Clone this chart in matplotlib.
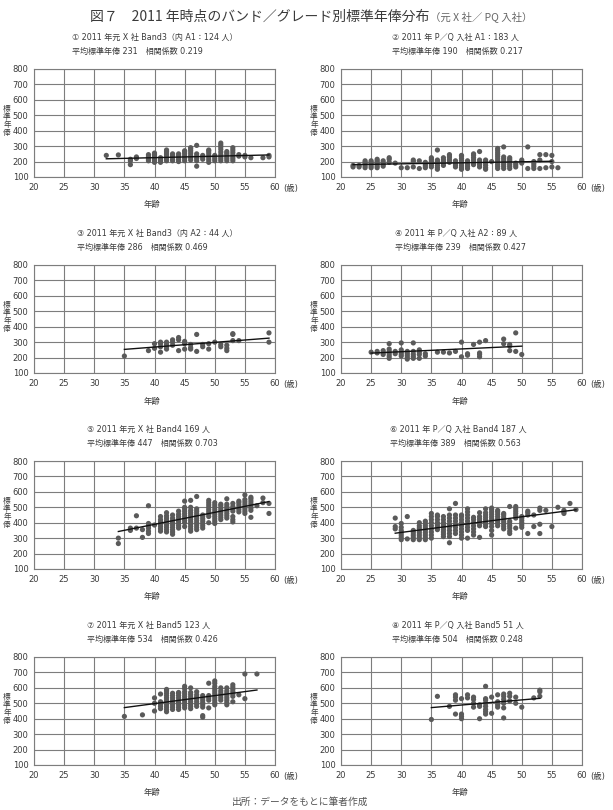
import matplotlib
matplotlib.use("Agg")
import matplotlib.pyplot as plt

plt.rcParams['font.family'] = ['Noto Sans CJK JP', 'DejaVu Sans']

# ---- data ----
titulo = "図７　2011 年時点のバンド／グレード別標準年俸分布"
titulo_sub = "（元 X 社／ PQ 入社）"
pie = "出所：データをもとに筆者作成"

subtitulos = [
    "① 2011 年元 X 社 Band3（内 A1：124 人）",
    "② 2011 年 P／Q 入社 A1：183 人",
    "③ 2011 年元 X 社 Band3（内 A2：44 人）",
    "④ 2011 年 P／Q 入社 A2：89 人",
    "⑤ 2011 年元 X 社 Band4 169 人",
    "⑥ 2011 年 P／Q 入社 Band4 187 人",
    "⑦ 2011 年元 X 社 Band5 123 人",
    "⑧ 2011 年 P／Q 入社 Band5 51 人",
]
promedio = [231, 190, 286, 239, 447, 389, 534, 504]
correlacion = [0.219, 0.217, 0.469, 0.427, 0.703, 0.563, 0.426, 0.248]

# edad -> lista de salarios por panel
p1_edad = [32, 34, 36, 37, 39, 40, 41, 42, 43, 44, 45, 46, 47, 48, 49, 50, 51, 52, 53, 54, 55, 56, 58, 59]
p1_sal = [[240], [243], [180, 205, 215], [220, 230], [205, 215, 225, 235, 245],
          [195, 205, 215, 225, 235, 245, 255], [195, 205, 215, 225],
          [205, 215, 225, 235, 245, 255, 265, 275], [205, 215, 230, 240, 250],
          [200, 212, 225, 238, 250], [205, 220, 235, 250, 262, 270],
          [210, 225, 240, 255, 270, 282, 290], [170, 205, 220, 235, 250, 305],
          [215, 228, 240], [195, 210, 225, 240, 255, 268, 275],
          [205, 218, 230, 240], [205, 218, 230, 245, 262, 280, 295, 308, 320],
          [205, 218, 230, 245, 255, 265], [205, 218, 230, 245, 260, 275, 290],
          [235, 245], [230, 240], [225], [225], [230, 240]]

p2_edad = [22, 23, 24, 25, 26, 27, 28, 29, 30, 31, 32, 33, 34, 35, 36, 37, 38, 39, 40,
           41, 42, 43, 44, 45, 46, 47, 48, 49, 50, 51, 52, 53, 54, 55, 56]
p2_sal = [[165, 175], [165, 175], [160, 172, 185, 195, 205], [160, 172, 185, 195, 205],
          [160, 172, 185, 195, 205, 215], [170, 180, 192, 205], [195, 215, 225], [190],
          [160], [160], [165, 200, 210], [155, 205], [160, 172, 185, 195],
          [165, 178, 190, 202, 215, 225], [150, 162, 175, 188, 200, 210, 275],
          [175, 188, 200, 212, 225], [195, 210, 225, 235, 245], [165, 178, 190, 205],
          [150, 162, 175, 190, 205, 220, 235, 240], [155, 168, 180, 195, 205],
          [180, 195, 210, 225, 240, 250], [165, 180, 195, 210, 265],
          [150, 160, 175, 190, 200, 210], [200],
          [155, 168, 180, 192, 205, 218, 232, 245, 258, 272, 285],
          [155, 168, 180, 192, 205, 218, 230, 295], [155, 168, 180, 192, 205, 215, 225],
          [165, 178, 190], [190, 200, 210], [155, 295], [155, 170, 185, 200],
          [155, 210, 245], [160, 245], [165, 200, 240], [160]]

p3_edad = [35, 39, 40, 41, 42, 43, 44, 45, 46, 47, 48, 49, 50, 51, 52, 53, 54, 59]
p3_sal = [[210], [245], [260, 290], [235, 270, 290, 300], [255, 270, 285, 300],
          [280, 300, 315], [245, 315, 330], [255, 290, 305], [255, 265, 285],
          [240, 350], [270, 285], [255, 290], [300], [270, 285], [245, 260, 280],
          [310, 350, 355], [310], [300, 360]]

p4_edad = [25, 26, 27, 28, 29, 30, 31, 32, 33, 34, 36, 37, 38, 39, 40, 41, 42, 43, 44, 47, 48, 49, 50]
p4_sal = [[235], [230, 240], [220, 232, 245], [195, 210, 225, 240, 255, 290], [225, 240],
          [210, 222, 235, 250, 295], [190, 202, 215, 228, 240], [195, 208, 222, 240, 295],
          [195, 220, 235, 250], [210, 225], [235], [235], [230], [240], [205, 300],
          [215, 225], [285], [205, 220, 230, 300], [310], [290, 320], [245, 275, 285],
          [240, 360], [220]]

p5_edad = [34, 36, 37, 38, 39, 40, 41, 42, 43, 44, 45, 46, 47, 48, 49, 50, 51, 52, 53, 54,
           55, 56, 57, 58, 59]
p5_sal = [[265, 300], [350, 365], [365, 445], [305, 355], [330, 345, 365, 380, 395, 510],
          [385], [345, 360, 375, 390, 405, 420, 440],
          [340, 355, 370, 385, 400, 415, 430, 445, 465],
          [325, 340, 355, 370, 385, 400, 415, 430, 450],
          [365, 380, 395, 410, 425, 440, 455, 475],
          [375, 400, 415, 430, 445, 460, 475, 490, 500, 540],
          [345, 360, 375, 390, 405, 420, 435, 450, 465, 480, 500, 545],
          [355, 370, 385, 400, 415, 430, 445, 460, 475, 490, 570],
          [365, 380, 395, 410, 425, 440, 450],
          [400, 440, 455, 470, 485, 500, 515, 530, 545],
          [395, 410, 425, 440, 455, 470, 485, 500, 515, 530],
          [420, 435, 450, 465, 480, 495, 510, 520],
          [430, 445, 460, 475, 490, 505, 520, 555],
          [405, 420, 440, 475, 490, 505, 525],
          [470, 485, 500, 515, 530, 540],
          [460, 475, 490, 505, 520, 535, 550, 580],
          [435, 480, 495, 510, 525, 540, 555, 565], [510], [530, 560], [460, 525]]

p6_edad = [29, 30, 31, 32, 33, 34, 35, 36, 37, 38, 39, 40, 41, 42, 43, 44, 45, 46, 47, 48,
           49, 50, 51, 52, 53, 54, 55, 56, 57, 58, 59]
p6_sal = [[360, 375, 430], [290, 305, 320, 335, 350, 370, 395], [295, 440],
          [290, 305, 320, 335, 350], [290, 305, 320, 335, 350, 365, 380, 400],
          [290, 305, 320, 335, 350, 365, 380, 395, 410],
          [300, 320, 340, 360, 380, 400, 420, 440, 460],
          [355, 370, 385, 400, 420, 440, 450],
          [310, 325, 340, 355, 370, 385, 400, 420, 440],
          [270, 310, 330, 350, 370, 390, 410, 430, 450, 490],
          [330, 350, 370, 390, 410, 430, 450, 525],
          [300, 320, 340, 360, 380, 400, 420, 440, 450],
          [300, 350, 370, 390, 410, 430, 450, 470, 490],
          [320, 340, 360, 380, 400, 420, 435],
          [305, 380, 395, 410, 425, 440, 465],
          [375, 390, 405, 420, 435, 450, 465, 490],
          [320, 350, 375, 395, 410, 425, 440, 455, 470, 485, 495],
          [380, 395, 410, 425, 440, 455, 470, 480],
          [360, 375, 390, 405, 420, 435, 450, 460],
          [330, 345, 365, 380, 395, 410, 505],
          [365, 430, 445, 460, 475, 490, 505],
          [370, 385, 400, 415, 430, 440], [330, 450, 465, 475], [375, 450],
          [330, 390, 480, 495], [480], [375], [500], [460, 470, 480], [525], [485]]

p7_edad = [35, 38, 40, 41, 42, 43, 44, 45, 46, 47, 48, 49, 50, 51, 52, 53, 54, 55, 57]
p7_sal = [[415], [425], [450, 500, 535], [465, 480, 495, 510, 560],
          [445, 460, 475, 490, 505, 520, 535, 550, 565, 580, 590],
          [460, 475, 490, 505, 520, 535, 550, 565],
          [460, 475, 490, 505, 520, 535, 550, 565, 570],
          [470, 485, 500, 515, 530, 545, 560, 575, 595, 610],
          [465, 480, 495, 510, 525, 540, 555, 570, 600],
          [480, 495, 510, 525, 540, 555, 575],
          [410, 420, 475, 490, 505, 520, 535, 550],
          [470, 520, 535, 550, 630],
          [490, 505, 520, 535, 550, 565, 580, 595, 610, 630, 645],
          [520, 535, 550, 565, 580, 600],
          [490, 505, 520, 535, 550, 565, 580, 600],
          [510, 545, 560, 575, 590, 605, 620], [555], [530, 690], [690]]

p8_edad = [35, 36, 38, 39, 40, 41, 42, 43, 44, 45, 46, 47, 48, 49, 50, 52, 53]
p8_sal = [[395], [545], [480], [430, 520, 540, 555], [400, 415, 430, 530], [535, 555],
          [475, 500, 525, 540], [400, 480, 490],
          [430, 445, 460, 480, 500, 520, 530, 610], [435, 540], [475, 490, 510, 555],
          [405, 470, 500, 525, 545, 560], [515, 545, 565], [500, 540], [475], [535],
          [545, 575, 585]]

# recta de tendencia: edad inicio, edad fin, salario inicio, salario fin
tendencia = [
    (32, 59, 218, 243),
    (22, 55, 180, 202),
    (35, 59, 253, 326),
    (25, 50, 229, 274),
    (34, 59, 343, 537),
    (29, 59, 332, 484),
    (35, 57, 472, 586),
    (35, 53, 472, 532),
]

edades = [p1_edad, p2_edad, p3_edad, p4_edad, p5_edad, p6_edad, p7_edad, p8_edad]
salarios = [p1_sal, p2_sal, p3_sal, p4_sal, p5_sal, p6_sal, p7_sal, p8_sal]

# ---- figura ----
W, H = 613, 810
fig = plt.figure(figsize=(W / 100, H / 100), dpi=100)
fig.patch.set_facecolor('white')

def px(x, y):
    return x / W, 1 - y / H

gris_txt = '#3a3a3a'
gris_punto = '#5a5a5a'
gris_rejilla = '#7d7d7d'
fam_txt = ['DejaVu Sans', 'Noto Sans CJK JP']

# titulo principal
t = fig.text(*px(90, 17), titulo, ha='left', va='center', fontsize=10, color=gris_txt)
rend = fig.canvas.get_renderer()
bb = t.get_window_extent(rend)
fig.text(bb.x1 / W + 1 / W, 1 - 17 / H, titulo_sub, ha='left', va='center',
         fontsize=7.5, color='#666666')

col_x = [34, 341]
fila_top = [69, 265, 461, 657]
txt_x = [[72, 392], [77, 395], [87, 390], [87, 392]]
ax_w, ax_h = 241, 108

for i in range(8):
    fila, col = divmod(i, 2)
    left = col_x[col]
    top = fila_top[fila]
    ax = fig.add_axes([left / W, 1 - (top + ax_h) / H, ax_w / W, ax_h / H])

    xs, ys = [], []
    for e, vals in zip(edades[i], salarios[i]):
        for v in vals:
            xs.append(e)
            ys.append(v)
    ax.scatter(xs, ys, s=14, color=gris_punto, edgecolors='none', zorder=3)

    x0, x1, y0, y1 = tendencia[i]
    ax.plot([x0, x1], [y0, y1], color='#111111', lw=1.0, zorder=4)

    ax.set_xlim(20, 60)
    ax.set_ylim(100, 800)
    ax.set_xticks(range(20, 61, 5))
    ax.set_yticks(range(100, 801, 100))
    ax.grid(True, color=gris_rejilla, lw=0.8)
    ax.set_axisbelow(True)
    for s in ax.spines.values():
        s.set_color(gris_rejilla)
        s.set_linewidth(0.8)
    ax.tick_params(length=0, labelsize=6, labelcolor=gris_txt, pad=4,
                   labelfontfamily='DejaVu Sans')

    ax.annotate('(歳)', xy=(1, 0), xycoords='axes fraction', xytext=(6, -8),
                textcoords='offset points', ha='left', va='center', fontsize=6,
                color=gris_txt, family=fam_txt)

    cx = left + ax_w / 2
    fig.text(*px(cx - 2, top + ax_h + 28), '年齢', ha='center', va='center',
             fontsize=6, color=gris_txt)
    fig.text(*px(left - 27, top + ax_h / 2 - 2), '標\n準\n年\n俸', ha='center', va='center',
             fontsize=5.5, color=gris_txt, linespacing=1.05)

    tx = txt_x[fila][col]
    fig.text(*px(tx, top - 32), subtitulos[i], ha='left', va='center',
             fontsize=5.8, color=gris_txt, family=fam_txt)
    fig.text(*px(tx, top - 18), f'平均標準年俸 {promedio[i]}　相関係数 {correlacion[i]:.3f}',
             ha='left', va='center', fontsize=5.8, color=gris_txt, family=fam_txt)

fig.text(*px(300, 802), pie, ha='center', va='center', fontsize=7, color='#555555')

fig.savefig('out.png', dpi=100)
